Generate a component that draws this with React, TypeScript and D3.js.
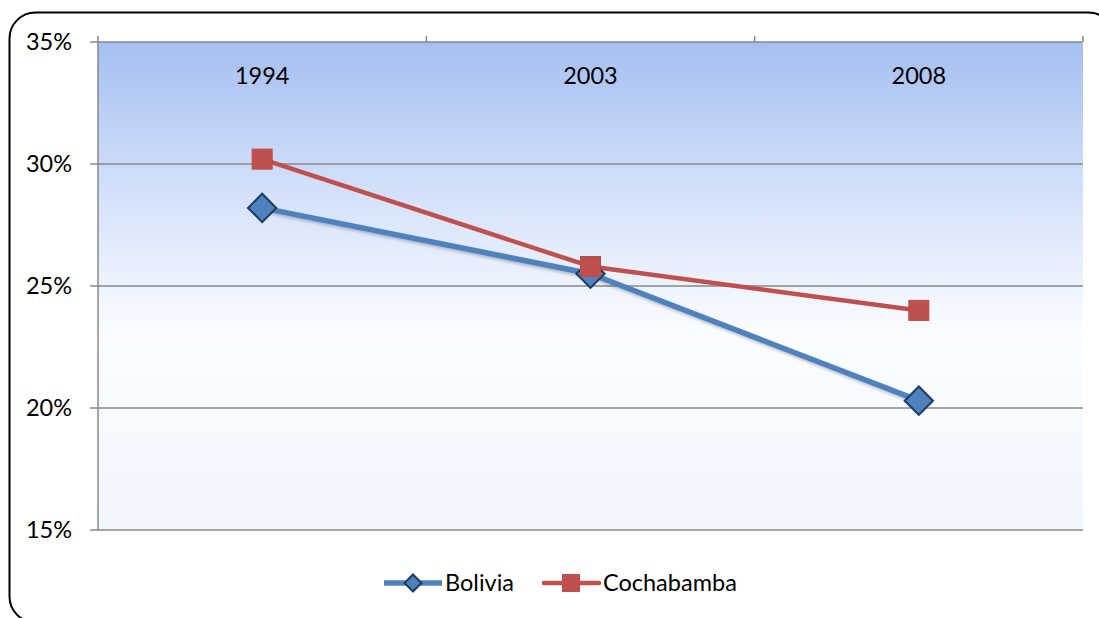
import React from "react";
import * as d3 from "d3";

const categories = ["1994", "2003", "2008"];
const bolivia = [28.2, 25.5, 20.3];
const cochabamba = [30.2, 25.8, 24.0];
const yTicks = [15, 20, 25, 30, 35];

const W = 1099, H = 618;
const M = { left: 98, right: 1083, top: 42, bottom: 530 };

export default function App() {
  const x = d3.scaleBand<string>().domain(categories).range([M.left, M.right]).padding(0);
  const y = d3.scaleLinear().domain([15, 35]).range([M.bottom, M.top]);
  const cx = (c: string) => (x(c) as number) + x.bandwidth() / 2;
  const line = d3.line<number>().x((_, i) => cx(categories[i])).y((d) => y(d));
  const font = "Lato, 'Open Sans', sans-serif";
  const fs = 23.5;
  const boundaries = [M.left, ...categories.map((c) => (x(c) as number) + x.bandwidth())];
  return (
    <svg width={W} height={H} style={{ position: "absolute", left: 0, top: 0 }}>
      <defs>
        <linearGradient id="bg" x1="0" y1="0" x2="0" y2="1">
          <stop offset="0%" stopColor="#a5bff1" />
          <stop offset="30%" stopColor="#d2e0fa" />
          <stop offset="60%" stopColor="#fbfdff" />
          <stop offset="100%" stopColor="#f1f5fd" />
        </linearGradient>
        <filter id="sh" x="-10%" y="-10%" width="120%" height="130%">
          <feDropShadow dx="1" dy="2" stdDeviation="1.5" floodColor="#000" floodOpacity="0.25" />
        </filter>
      </defs>
      <rect x={0} y={0} width={W} height={H} fill="#fff" />
      <rect x={9.5} y={12.5} width={1105} height={610} rx={26} ry={26} fill="none" stroke="#000" strokeWidth={2} />
      <rect x={M.left} y={M.top} width={M.right - M.left} height={M.bottom - M.top} fill="url(#bg)" />
      {yTicks.map((t) => (
        <g key={t}>
          <line x1={90} x2={M.right} y1={y(t)} y2={y(t)} stroke="#888" strokeWidth={1.5} />
          <text x={72} y={y(t)} dy="0.35em" textAnchor="end" fontFamily={font} fontSize={fs} fill="#000">
            {t}%
          </text>
        </g>
      ))}
      <line x1={M.left} x2={M.left} y1={M.top} y2={M.bottom} stroke="#888" strokeWidth={1.5} />
      {boundaries.map((b, i) => (
        <line key={i} x1={b} x2={b} y1={M.top - 6} y2={M.top} stroke="#888" strokeWidth={1.5} />
      ))}
      {categories.map((c) => (
        <text key={c} x={cx(c)} y={76} dy="0.35em" textAnchor="middle" fontFamily={font} fontSize={fs} fill="#000">
          {c}
        </text>
      ))}
      <g filter="url(#sh)">
        <path d={line(bolivia) as string} fill="none" stroke="#4f81bd" strokeWidth={5.5} strokeLinejoin="round" />
      </g>
      <path d={line(cochabamba) as string} fill="none" stroke="#c0504d" strokeWidth={4.5} strokeLinejoin="round" />
      {bolivia.map((v, i) => (
        <rect key={i} x={cx(categories[i]) - 10} y={y(v) - 10} width={20} height={20}
          transform={`rotate(45 ${cx(categories[i])} ${y(v)})`}
          fill="#4f81bd" stroke="#1d3a5f" strokeWidth={2} />
      ))}
      {cochabamba.map((v, i) => (
        <rect key={i} x={cx(categories[i]) - 10} y={y(v) - 10} width={20} height={20}
          fill="#c0504d" stroke="#b94a47" strokeWidth={1} />
      ))}
      <g>
        <line x1={384} x2={442} y1={583} y2={583} stroke="#4f81bd" strokeWidth={5.5} />
        <rect x={413 - 6} y={583 - 6} width={12} height={12} transform="rotate(45 413 583)" fill="#4f81bd" stroke="#1d3a5f" strokeWidth={2} />
        <text x={445} y={583} dy="0.35em" fontFamily={font} fontSize={fs} fill="#000">Bolivia</text>
        <line x1={544} x2={599} y1={583} y2={583} stroke="#c0504d" strokeWidth={4.5} strokeLinecap="round" />
        <rect x={571 - 9} y={583 - 9} width={18} height={18} fill="#c0504d" />
        <text x={603} y={583} dy="0.35em" fontFamily={font} fontSize={fs} fill="#000">Cochabamba</text>
      </g>
    </svg>
  );
}
